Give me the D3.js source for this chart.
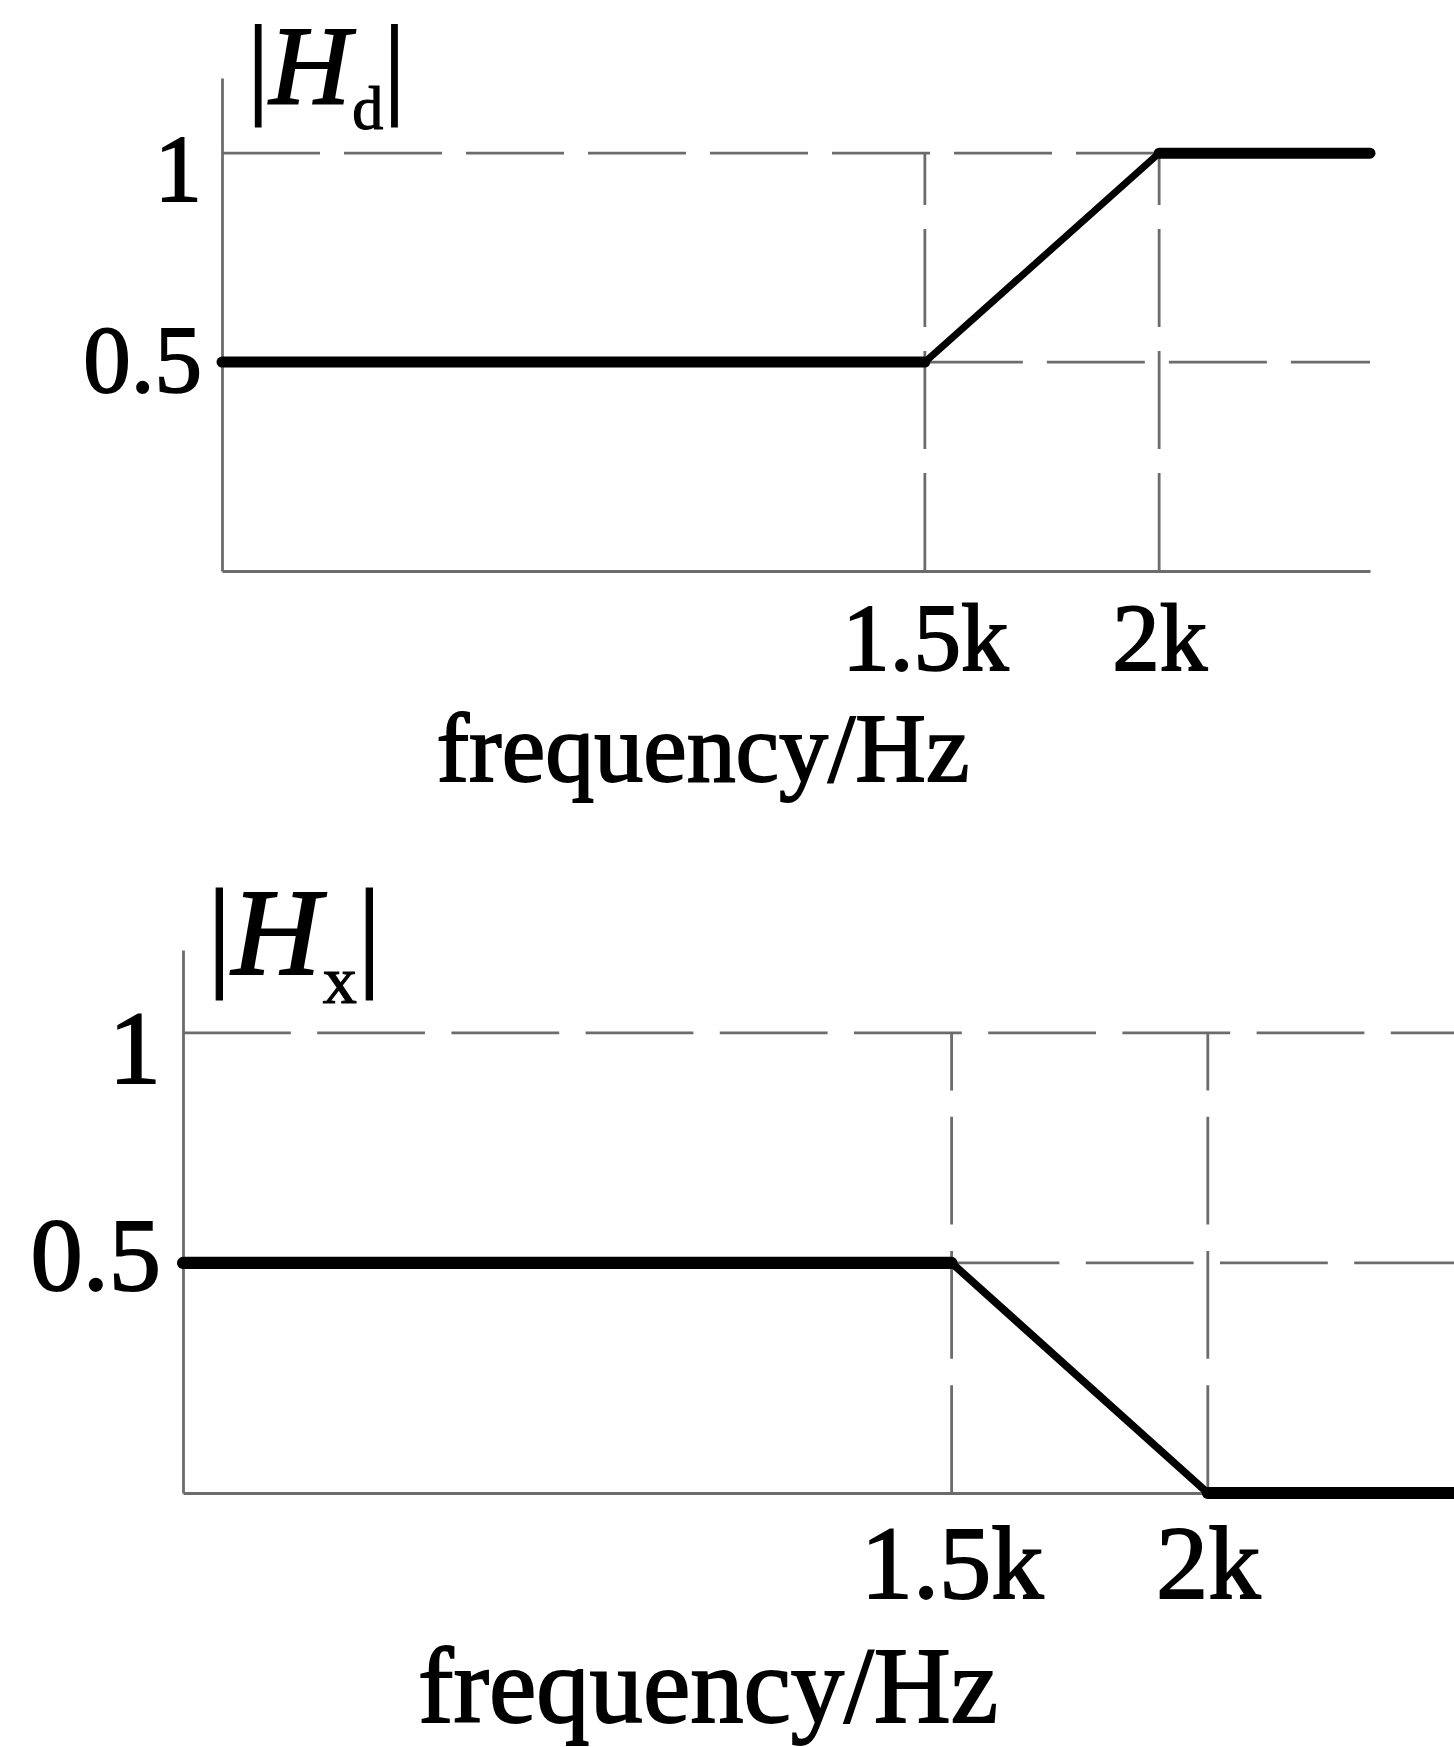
<!DOCTYPE html>
<html>
<head>
<meta charset="utf-8">
<script src="https://cdn.jsdelivr.net/npm/d3@7"></script>
<style>
  html, body { margin: 0; padding: 0; background: #fff; }
  svg { display: block; }
  text { font-family: "Liberation Serif", "DejaVu Serif", serif; fill: #000; }
</style>
</head>
<body>
<svg id="chart"></svg>
<script>
// values
const freqTicks = [1500, 2000];
const freqTickLabels = ["1.5k", "2k"];
const gainTicks = [0.5, 1];
const gainTickLabels = ["0.5", "1"];
const xTitle = "frequency/Hz";

const hdFreq = [0, 1500, 2000, 2450];
const hdGain = [0.5, 0.5, 1, 1];
const hxFreq = [0, 1500, 2000, 2500];
const hxGain = [0.5, 0.5, 0, 0];

const svg = d3.select("#chart")
    .attr("width", 1454)
    .attr("height", 1747);

class ResponsePlot {

    constructor( config, freqs, gains ) {
        this.config = config;
        this.points = freqs.map((f, i) => ({ f: f, g: gains[i] }));
        this.init();
    }

    init() {
        let self = this;
        let c = self.config;

        self.g = svg.append("g");

        self.xscale = d3.scaleLinear()
            .domain([0, d3.max(self.points, d => d.f)])
            .range([c.left, c.right]);

        self.yscale = d3.scaleLinear()
            .domain([0, c.gainTop])
            .range([c.bottom, c.top]);
    }

    render() {
        let self = this;
        let c = self.config;
        const k = c.k;
        const gray = "#6c6c6c";
        const fMax = self.xscale.domain()[1];

        // dashed guides
        const guides = self.g.append("g")
            .attr("stroke", gray)
            .attr("stroke-width", 2.8)
            .attr("stroke-dasharray", `${98 * k},${24 * k}`);

        guides.append("line")
            .attr("x1", self.xscale(0)).attr("x2", self.xscale(fMax))
            .attr("y1", self.yscale(gainTicks[1])).attr("y2", self.yscale(gainTicks[1]));

        guides.append("line")
            .attr("x1", self.xscale(freqTicks[0])).attr("x2", self.xscale(fMax))
            .attr("y1", self.yscale(gainTicks[0])).attr("y2", self.yscale(gainTicks[0]));

        guides.selectAll(".vguide")
            .data(freqTicks)
            .enter()
            .append("line")
            .attr("class", "vguide")
            .attr("x1", d => self.xscale(d)).attr("x2", d => self.xscale(d))
            .attr("y1", self.yscale(0)).attr("y2", self.yscale(gainTicks[1]));

        // axes
        const yaxis = d3.axisLeft(self.yscale)
            .tickValues(gainTicks)
            .tickFormat((d, i) => gainTickLabels[i])
            .tickSize(0)
            .tickSizeOuter(0);

        const yg = self.g.append("g")
            .attr("transform", `translate(${c.left},0)`)
            .call(yaxis);

        const xaxis = d3.axisBottom(self.xscale)
            .tickValues(freqTicks)
            .tickFormat((d, i) => freqTickLabels[i])
            .tickSize(0)
            .tickSizeOuter(0);

        const xg = self.g.append("g")
            .attr("transform", `translate(0,${c.bottom})`)
            .call(xaxis);

        [yg, xg].forEach(ax => {
            ax.select(".domain")
                .attr("stroke", gray)
                .attr("stroke-width", 2.8);
            ax.selectAll("text")
                .attr("font-family", "Liberation Serif")
                .attr("fill", "#000")
                .attr("stroke", "#000")
                .attr("stroke-width", 1.8);
        });

        yg.selectAll(".tick text")
            .attr("x", -20 * k)
            .attr("dy", (d, i) => c.yLabelShift[i])
            .attr("font-size", 95 * k);

        xg.selectAll(".tick text")
            .attr("y", c.xLabelDrop)
            .attr("dy", 0)
            .attr("font-size", 95 * k);

        // response curve
        const segs = d3.pairs(self.points);
        self.g.selectAll(".seg")
            .data(segs)
            .enter()
            .append("line")
            .attr("class", "seg")
            .attr("x1", d => self.xscale(d[0].f))
            .attr("y1", d => self.yscale(d[0].g))
            .attr("x2", d => self.xscale(d[1].f))
            .attr("y2", d => self.yscale(d[1].g))
            .attr("stroke", "#000")
            .attr("stroke-linecap", "round")
            .attr("stroke-width", d => d[0].g === d[1].g ? 11 * k : 7 * k);

        // x title
        self.g.append("text")
            .attr("x", c.titleX)
            .attr("y", c.titleY)
            .attr("text-anchor", "middle")
            .attr("font-size", 98 * k)
            .attr("textLength", c.titleW)
            .attr("lengthAdjust", "spacingAndGlyphs")
            .attr("stroke", "#000")
            .attr("stroke-width", 1.8)
            .text(xTitle);

        // |H_sub| label
        const lab = self.g.append("text")
            .attr("x", c.nameX)
            .attr("y", c.nameY)
            .attr("font-size", 112 * k)
            .attr("stroke", "#000")
            .attr("stroke-width", 1.2);
        lab.append("tspan").text("|");
        lab.append("tspan").attr("font-style", "italic")
            .attr("stroke-width", 2).text("H");
        lab.append("tspan")
            .attr("font-size", 62 * k)
            .attr("dx", 2 * k)
            .attr("dy", 26 * k)
            .text(c.sub);
        lab.append("tspan")
            .attr("dy", -26 * k)
            .text("|");
    }
}

const top_plot = new ResponsePlot({
    left: 222, right: 1370, top: 78, bottom: 571, gainTop: 1.18, k: 1,
    yLabelShift: [29, 47], xLabelDrop: 99,
    titleX: 703, titleY: 781, titleW: 533,
    nameX: 247, nameY: 103, sub: "d"
}, hdFreq, hdGain);
top_plot.render();

const bottom_plot = new ResponsePlot({
    left: 183, right: 1464, top: 950, bottom: 1493, gainTop: 1.18, k: 1.1,
    yLabelShift: [27, 50], xLabelDrop: 105,
    titleX: 708, titleY: 1722, titleW: 580,
    nameX: 207, nameY: 974, sub: "x"
}, hxFreq, hxGain);
bottom_plot.render();
</script>
</body>
</html>
